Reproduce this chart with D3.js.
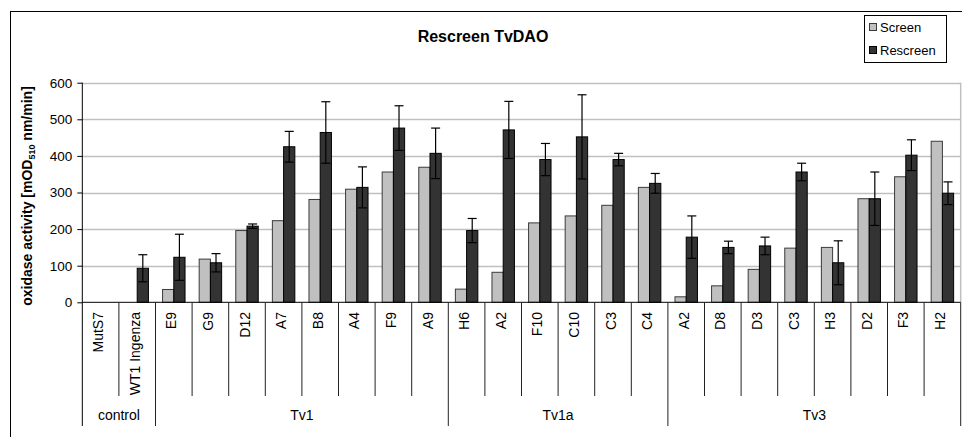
<!DOCTYPE html>
<html lang="en">
<head>
  <meta charset="UTF-8">
  <title>Rescreen TvDAO</title>
  <script src="https://d3js.org/d3.v7.min.js"></script>
  <style>
    body { margin: 0; background: #fff; font-family: "Liberation Sans", Arial, sans-serif; }
    svg { display: block; }
  </style>
</head>
<body>
<svg id="chart" width="962" height="437"></svg>
<script>
// categories and groups
const categories = ["MutS7", "WT1 Ingenza", "E9", "G9", "D12", "A7", "B8", "A4", "F9", "A9",
  "H6", "A2", "F10", "C10", "C3", "C4", "A2", "D8", "D3", "C3", "H3", "D2", "F3", "H2"];
const groupNames = ["control", "Tv1", "Tv1a", "Tv3"];
const groupSizes = [2, 8, 6, 8];

// series values (mOD510 nm/min)
const screenValues = [0, 0, 35, 118, 196, 223, 281, 309, 356, 369, 36, 82, 217, 236, 265, 314,
  15, 45, 90, 148, 150, 283, 343, 440];
const rescreenValues = [0, 93, 123, 108, 208, 425, 464, 314, 476, 407, 196, 471, 390, 452, 390, 325,
  178, 150, 154, 356, 108, 283, 402, 298];
const rescreenErrors = [0, 37, 63, 25, 6, 42, 84, 56, 61, 69, 33, 78, 44, 115, 17, 27,
  58, 17, 24, 24, 60, 73, 42, 31];
const yTicks = [0, 100, 200, 300, 400, 500, 600];

const svg = d3.select("#chart");
const font = '"Liberation Sans", Arial, sans-serif';

const plot = { left: 82.3, right: 960.7, top: 82.7, bottom: 302.3 };
const labelBottom = 396;
const groupBottom = 426;

// outer frame (cropped at right/bottom like the original)
svg.append("rect")
  .attr("x", 10.5).attr("y", 11.5)
  .attr("width", 1000).attr("height", 500)
  .attr("fill", "none").attr("stroke", "#000");

const idx = categories.map((d, i) => i);
const x = d3.scaleBand().domain(idx).range([plot.left, plot.right]).padding(0);
const inner = d3.scaleBand().domain(["screen", "rescreen"])
  .range([0, x.bandwidth()]).paddingInner(0).paddingOuter(0.63);
const y = d3.scaleLinear().domain([0, 600]).range([plot.bottom, plot.top]);

// gridlines
svg.append("g")
  .selectAll("line")
  .data(yTicks.filter(d => d > 0))
  .join("line")
  .attr("x1", plot.left).attr("x2", plot.right)
  .attr("y1", d => Math.round(y(d)) + 0.5).attr("y2", d => Math.round(y(d)) + 0.5)
  .attr("stroke", "#c0c0c0").attr("stroke-width", 1.5);

// right border of plot area
svg.append("line")
  .attr("x1", plot.right).attr("x2", plot.right)
  .attr("y1", y(600)).attr("y2", plot.bottom)
  .attr("stroke", "#c0c0c0").attr("stroke-width", 1.5);

// bars
const bars = svg.append("g");
bars.selectAll("rect.screen")
  .data(idx.filter(i => screenValues[i] > 0))
  .join("rect")
  .attr("class", "screen")
  .attr("x", i => x(i) + inner("screen"))
  .attr("width", inner.bandwidth())
  .attr("y", i => y(screenValues[i]))
  .attr("height", i => y(0) - y(screenValues[i]))
  .attr("fill", "#c0c0c0").attr("stroke", "#3a3a3a").attr("stroke-width", 1);

bars.selectAll("rect.rescreen")
  .data(idx.filter(i => rescreenValues[i] > 0))
  .join("rect")
  .attr("class", "rescreen")
  .attr("x", i => x(i) + inner("rescreen"))
  .attr("width", inner.bandwidth())
  .attr("y", i => y(rescreenValues[i]))
  .attr("height", i => y(0) - y(rescreenValues[i]))
  .attr("fill", "#333333").attr("stroke", "#000").attr("stroke-width", 1);

// error bars on rescreen
const err = svg.append("g").attr("stroke", "#000").attr("stroke-width", 1.2);
idx.filter(i => rescreenErrors[i] > 0).forEach(i => {
  const cx = x(i) + inner("rescreen") + inner.bandwidth() / 2;
  const hi = y(rescreenValues[i] + rescreenErrors[i]);
  const lo = y(rescreenValues[i] - rescreenErrors[i]);
  err.append("line").attr("x1", cx).attr("x2", cx).attr("y1", hi).attr("y2", lo);
  err.append("line").attr("x1", cx - 4.5).attr("x2", cx + 4.5).attr("y1", hi).attr("y2", hi);
  err.append("line").attr("x1", cx - 4.5).attr("x2", cx + 4.5).attr("y1", lo).attr("y2", lo);
});

// y axis
const yAxis = svg.append("g")
  .attr("transform", `translate(${plot.left},0)`)
  .call(d3.axisLeft(y).tickValues(yTicks).tickSize(5).tickSizeOuter(0).tickPadding(5));
yAxis.selectAll("text").attr("font-family", font).attr("font-size", 13.5).attr("fill", "#000");
yAxis.select(".domain").remove();
yAxis.selectAll(".tick line").attr("stroke", "#000");

// axis lines and category table
svg.append("line")
  .attr("x1", plot.left).attr("x2", plot.left)
  .attr("y1", plot.top).attr("y2", groupBottom)
  .attr("stroke", "#000");
svg.append("line")
  .attr("x1", plot.left).attr("x2", plot.right)
  .attr("y1", plot.bottom).attr("y2", plot.bottom)
  .attr("stroke", "#000");

// group boundaries
const groupStarts = groupSizes.map((n, k) => d3.sum(groupSizes.slice(0, k)));
const boundaryIdx = new Set(groupStarts.concat([categories.length]));

const dividers = d3.range(1, categories.length + 1);
svg.append("g")
  .selectAll("line")
  .data(dividers)
  .join("line")
  .attr("x1", i => i < categories.length ? x(i) : plot.right)
  .attr("x2", i => i < categories.length ? x(i) : plot.right)
  .attr("y1", plot.bottom)
  .attr("y2", i => boundaryIdx.has(i) ? groupBottom : labelBottom)
  .attr("stroke", "#222");

// category labels (rotated)
svg.append("g")
  .selectAll("text")
  .data(idx)
  .join("text")
  .attr("transform", i => `translate(${x(i) + x.bandwidth() / 2 + 2.5},312) rotate(-90)`)
  .attr("text-anchor", "end")
  .attr("font-family", font).attr("font-size", 14)
  .text(i => categories[i]);

// group labels
svg.append("g")
  .selectAll("text")
  .data(groupNames)
  .join("text")
  .attr("x", (g, k) => {
    const a = x(groupStarts[k]);
    const b = x(groupStarts[k] + groupSizes[k] - 1) + x.bandwidth();
    return (a + b) / 2;
  })
  .attr("y", 420)
  .attr("text-anchor", "middle")
  .attr("font-family", font).attr("font-size", 14)
  .text(g => g);

// y axis title
const yTitle = svg.append("text")
  .attr("transform", `translate(32,196) rotate(-90)`)
  .attr("text-anchor", "middle")
  .attr("font-family", font).attr("font-size", 14).attr("font-weight", "bold");
yTitle.append("tspan").text("oxidase activity [mOD");
yTitle.append("tspan").attr("font-size", 9).attr("dy", 3).text("510");
yTitle.append("tspan").attr("dy", -3).text(" nm/min]");

// title
svg.append("text")
  .attr("x", 483).attr("y", 42)
  .attr("text-anchor", "middle")
  .attr("font-family", font).attr("font-size", 16).attr("font-weight", "bold")
  .text("Rescreen TvDAO");

// legend
const legend = svg.append("g").attr("transform", "translate(864,15)");
legend.append("rect")
  .attr("x", 0.5).attr("y", 0.5).attr("width", 82).attr("height", 47)
  .attr("fill", "#fff").attr("stroke", "#000");
const legendItems = [
  { name: "Screen", fill: "#c0c0c0", stroke: "#3a3a3a" },
  { name: "Rescreen", fill: "#333333", stroke: "#000" }
];
legendItems.forEach((d, k) => {
  const cy = 12 + k * 23;
  legend.append("rect")
    .attr("x", 5.5).attr("y", cy - 3.5).attr("width", 7).attr("height", 7)
    .attr("fill", d.fill).attr("stroke", d.stroke);
  legend.append("text")
    .attr("x", 16).attr("y", cy + 5)
    .attr("font-family", font).attr("font-size", 13)
    .text(d.name);
});
</script>
</body>
</html>
